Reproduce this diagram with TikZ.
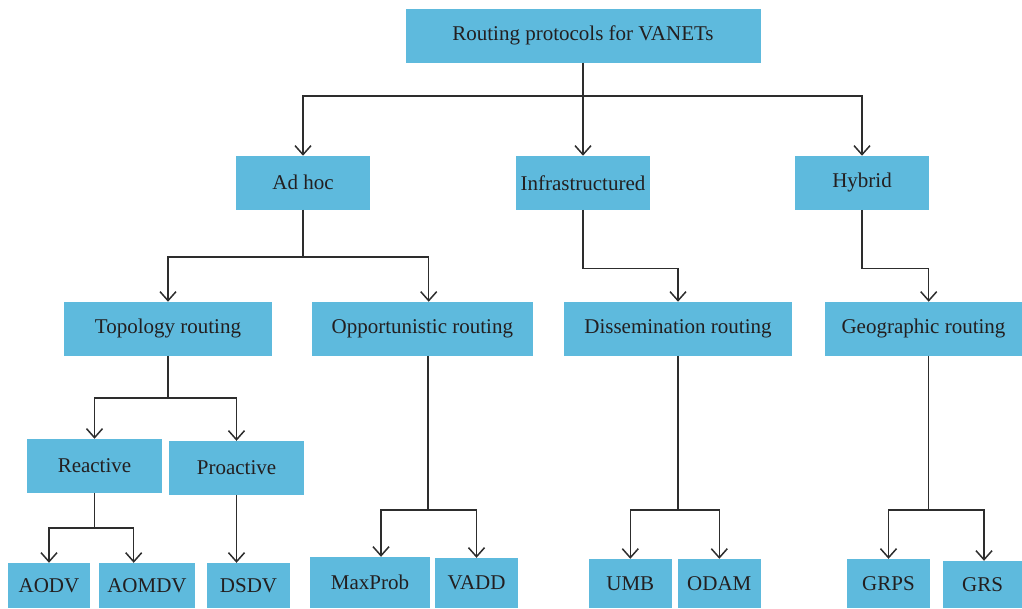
\documentclass[tikz,border=0pt]{standalone}
\usepackage{fontspec}
\setmainfont{Liberation Serif}
\usepackage{tikz}
\usetikzlibrary{arrows.meta}
\definecolor{caixa}{RGB}{94,186,221}
\definecolor{texto}{RGB}{35,31,32}
\definecolor{linha}{RGB}{45,45,45}
\newcommand{\corCaixa}{caixa}
\newcommand{\corTexto}{texto}
\newcommand{\corLinha}{linha}

\begin{document}
\begin{tikzpicture}[x=1pt, y=-1pt,
    caixa/.style={fill=\corCaixa, text=\corTexto, inner sep=0pt, font=\fontsize{21}{24}\selectfont},
    ligacao/.style={draw=\corLinha, line width=1.5pt, -{Straight Barb[length=9pt, width=16pt, line width=1.5pt]}}]
        \useasboundingbox (0,0) rectangle (1022,608);

          % raiz
        \node [caixa, minimum width=355, minimum height=53.7] (raiz) at (583,35.8) {Routing protocols for VANETs};

          % nivel 1
        \node [caixa, minimum width=134, minimum height=53.7] (adhoc) at (303,182.8) {Ad hoc};
        \node [caixa, minimum width=134, minimum height=53.7] (infra) at (583,182.8) {Infrastructured};
        \node [caixa, minimum width=134, minimum height=53.7] (hibrido) at (862,182.8) {Hybrid};

          % nivel 2
        \node [caixa, minimum width=208, minimum height=53.7] (topo) at (168,328.8) {Topology routing};
        \node [caixa, minimum width=220.7, minimum height=53.7] (oport) at (422.3,328.8) {Opportunistic routing};
        \node [caixa, minimum width=228, minimum height=53.7] (dissem) at (678,328.8) {Dissemination routing};
        \node [caixa, minimum width=197, minimum height=53.7] (geo) at (923.5,328.8) {Geographic routing};

          % nivel 3
        \node [caixa, minimum width=135, minimum height=53.7] (reativo) at (94.5,465.8) {Reactive};
        \node [caixa, minimum width=135, minimum height=54] (proativo) at (236.5,468) {Proactive};

          % folhas
        \node [caixa, minimum width=82, minimum height=45] (aodv) at (49,585.5) {AODV};
        \node [caixa, minimum width=96, minimum height=45] (aomdv) at (147,585.5) {AOMDV};
        \node [caixa, minimum width=83, minimum height=45] (dsdv) at (248.5,585.5) {DSDV};
        \node [caixa, minimum width=120, minimum height=51] (maxprob) at (370,582.5) {MaxProb};
        \node [caixa, minimum width=83, minimum height=50] (vadd) at (476.5,583) {VADD};
        \node [caixa, minimum width=82.7, minimum height=49] (umb) at (630.3,583.5) {UMB};
        \node [caixa, minimum width=82.7, minimum height=49] (odam) at (719.3,583.5) {ODAM};
        \node [caixa, minimum width=83, minimum height=49] (grps) at (888.5,583.5) {GRPS};
        \node [caixa, minimum width=79, minimum height=47] (grs) at (982.5,584.5) {GRS};

          % ligacoes
        \draw [ligacao] (raiz.south) -- ++(0,33.3) -| (adhoc.north);
        \draw [ligacao] (raiz.south) -- (infra.north);
        \draw [ligacao] (raiz.south) -- ++(0,33.3) -| (hibrido.north);

        \draw [ligacao] (adhoc.south) -- ++(0,47) -| (topo.north);
        \draw [ligacao] (adhoc.south) -- ++(0,47) -| ([xshift=6.4]oport.north);
        \draw [ligacao] (infra.south) -- ++(0,58.6) -| (dissem.north);
        \draw [ligacao] (hibrido.south) -- ++(0,58.6) -| ([xshift=5.2]geo.north);

        \draw [ligacao] (topo.south) -- ++(0,42.3) -| (reativo.north);
        \draw [ligacao] (topo.south) -- ++(0,42.3) -| (proativo.north);

        \draw [ligacao] (reativo.south) -- ++(0,35) -| (aodv.north);
        \draw [ligacao] (reativo.south) -- ++(0,35) -| ([xshift=-13.3]aomdv.north);
        \draw [ligacao] (proativo.south) -- (proativo.south |- dsdv.north);

        \draw [ligacao] ([xshift=5.7]oport.south) -- ++(0,154.3) -| ([xshift=11]maxprob.north);
        \draw [ligacao] ([xshift=5.7]oport.south) -- ++(0,154.3) -| (vadd.north);
        \draw [ligacao] (dissem.south) -- ++(0,154.3) -| (umb.north);
        \draw [ligacao] (dissem.south) -- ++(0,154.3) -| (odam.north);
        \draw [ligacao] ([xshift=5.2]geo.south) -- ++(0,154.3) -| (grps.north);
        \draw [ligacao] ([xshift=5.2]geo.south) -- ++(0,154.3) -| ([xshift=1.5]grs.north);

    \end{tikzpicture}
\end{document}
